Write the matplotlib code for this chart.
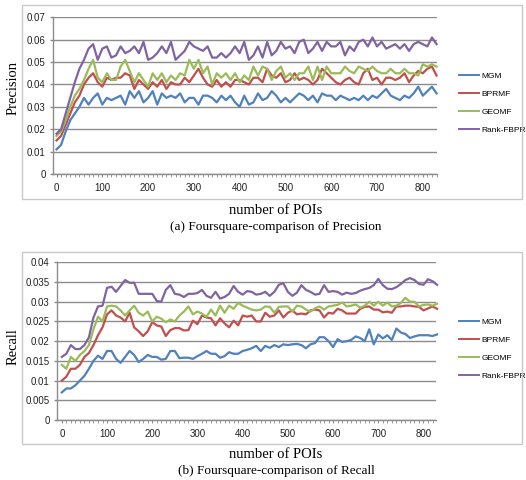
import numpy as np
import matplotlib
matplotlib.use("Agg")
import matplotlib.pyplot as plt
from matplotlib.ticker import MultipleLocator, FixedLocator
from matplotlib.patches import Rectangle

pois = list(range(0, 840, 10))
series_names = ["MGM", "BPRMF", "GEOMF", "Rank-FBPR"]

prec_mgm = [0.011,0.013,0.019,0.024,0.027,0.030,0.034,0.031,0.034,0.036,
            0.031,0.034,0.033,0.034,0.035,0.031,0.037,0.034,0.037,0.032,
            0.034,0.037,0.031,0.036,0.034,0.035,0.034,0.036,0.032,0.034,
            0.034,0.031,0.035,0.035,0.034,0.032,0.035,0.033,0.035,0.032,
            0.030,0.035,0.031,0.032,0.036,0.033,0.034,0.037,0.035,0.032,
            0.034,0.032,0.034,0.036,0.035,0.033,0.035,0.032,0.036,0.035,
            0.035,0.033,0.035,0.034,0.033,0.034,0.033,0.035,0.033,0.035,
            0.034,0.036,0.038,0.035,0.034,0.033,0.035,0.034,0.036,0.039,
            0.035,0.037,0.039,0.036]
prec_bprmf = [0.015,0.017,0.022,0.027,0.032,0.035,0.040,0.043,0.045,0.041,
              0.039,0.043,0.042,0.043,0.043,0.045,0.044,0.038,0.042,0.040,
              0.038,0.041,0.039,0.042,0.038,0.041,0.040,0.040,0.043,0.041,
              0.044,0.047,0.043,0.040,0.039,0.042,0.039,0.041,0.039,0.042,
              0.042,0.041,0.040,0.043,0.043,0.041,0.047,0.044,0.043,0.045,
              0.041,0.042,0.045,0.042,0.043,0.042,0.040,0.042,0.047,0.045,
              0.043,0.041,0.040,0.042,0.043,0.041,0.040,0.045,0.047,0.042,
              0.043,0.040,0.043,0.043,0.042,0.043,0.045,0.041,0.044,0.046,
              0.045,0.047,0.048,0.044]
prec_geomf = [0.017,0.019,0.024,0.030,0.035,0.038,0.042,0.047,0.051,0.043,
              0.041,0.045,0.042,0.042,0.048,0.051,0.046,0.041,0.045,0.042,
              0.039,0.045,0.042,0.045,0.041,0.044,0.042,0.045,0.044,0.051,
              0.047,0.051,0.045,0.048,0.040,0.045,0.043,0.045,0.042,0.045,
              0.041,0.044,0.042,0.048,0.044,0.048,0.047,0.042,0.046,0.048,
              0.043,0.045,0.042,0.045,0.045,0.048,0.042,0.048,0.042,0.048,
              0.045,0.045,0.045,0.048,0.046,0.045,0.048,0.047,0.046,0.048,
              0.046,0.045,0.045,0.047,0.045,0.045,0.047,0.045,0.045,0.044,
              0.049,0.048,0.049,0.048]
prec_rank = [0.018,0.020,0.027,0.034,0.041,0.047,0.051,0.056,0.058,0.051,
             0.056,0.057,0.052,0.053,0.057,0.054,0.055,0.057,0.054,0.059,
             0.051,0.052,0.054,0.057,0.054,0.059,0.051,0.053,0.055,0.059,
             0.057,0.056,0.055,0.057,0.052,0.052,0.054,0.052,0.054,0.057,
             0.054,0.059,0.051,0.053,0.057,0.052,0.059,0.053,0.055,0.059,
             0.056,0.057,0.054,0.059,0.060,0.054,0.056,0.059,0.055,0.059,
             0.057,0.057,0.059,0.053,0.057,0.055,0.059,0.060,0.057,0.061,
             0.057,0.059,0.056,0.057,0.058,0.056,0.058,0.055,0.058,0.059,
             0.058,0.057,0.061,0.058]

rec_mgm = [0.0070,0.0080,0.0080,0.0088,0.0100,0.0112,0.0130,0.0150,0.0163,0.0155,
           0.0175,0.0175,0.0155,0.0145,0.0160,0.0175,0.0165,0.0147,0.0155,0.0165,
           0.0160,0.0160,0.0153,0.0155,0.0175,0.0175,0.0157,0.0158,0.0158,0.0155,
           0.0162,0.0168,0.0175,0.0168,0.0168,0.0158,0.0162,0.0172,0.0168,0.0168,
           0.0175,0.0178,0.0182,0.0188,0.0175,0.0188,0.0183,0.0190,0.0185,0.0192,
           0.0190,0.0192,0.0193,0.0190,0.0182,0.0192,0.0195,0.0210,0.0210,0.0200,
           0.0185,0.0205,0.0198,0.0200,0.0203,0.0212,0.0208,0.0200,0.0230,0.0192,
           0.0217,0.0207,0.0215,0.0203,0.0232,0.0222,0.0218,0.0208,0.0212,0.0215,
           0.0215,0.0215,0.0213,0.0217]
rec_bprmf = [0.0100,0.0110,0.0130,0.0130,0.0140,0.0160,0.0170,0.0190,0.0215,0.0235,
             0.0268,0.0278,0.0265,0.0260,0.0250,0.0272,0.0235,0.0225,0.0213,0.0225,
             0.0248,0.0240,0.0237,0.0213,0.0228,0.0233,0.0233,0.0227,0.0228,0.0252,
             0.0243,0.0265,0.0260,0.0258,0.0240,0.0258,0.0245,0.0235,0.0252,0.0240,
             0.0265,0.0262,0.0265,0.0250,0.0250,0.0272,0.0262,0.0265,0.0278,0.0260,
             0.0272,0.0278,0.0268,0.0270,0.0268,0.0278,0.0280,0.0278,0.0260,0.0272,
             0.0270,0.0282,0.0278,0.0270,0.0270,0.0270,0.0282,0.0287,0.0288,0.0280,
             0.0280,0.0273,0.0275,0.0272,0.0288,0.0288,0.0290,0.0290,0.0288,0.0287,
             0.0278,0.0283,0.0288,0.0282]
rec_geomf = [0.0140,0.0130,0.0160,0.0150,0.0165,0.0175,0.0190,0.0230,0.0262,0.0250,
             0.0288,0.0290,0.0288,0.0278,0.0265,0.0278,0.0290,0.0272,0.0265,0.0275,
             0.0250,0.0262,0.0257,0.0248,0.0255,0.0250,0.0265,0.0275,0.0288,0.0268,
             0.0275,0.0270,0.0262,0.0280,0.0265,0.0290,0.0272,0.0290,0.0282,0.0297,
             0.0290,0.0285,0.0280,0.0278,0.0280,0.0288,0.0287,0.0272,0.0287,0.0288,
             0.0288,0.0275,0.0290,0.0288,0.0280,0.0275,0.0283,0.0288,0.0280,0.0288,
             0.0290,0.0292,0.0298,0.0288,0.0290,0.0293,0.0285,0.0290,0.0300,0.0290,
             0.0300,0.0290,0.0298,0.0288,0.0290,0.0297,0.0310,0.0300,0.0300,0.0288,
             0.0292,0.0293,0.0290,0.0295]
rec_rank = [0.0160,0.0168,0.0190,0.0180,0.0180,0.0190,0.0210,0.0260,0.0288,0.0290,
            0.0335,0.0338,0.0325,0.0340,0.0355,0.0348,0.0348,0.0320,0.0320,0.0320,
            0.0320,0.0302,0.0300,0.0330,0.0342,0.0320,0.0318,0.0312,0.0320,0.0320,
            0.0322,0.0330,0.0315,0.0310,0.0325,0.0308,0.0312,0.0320,0.0340,0.0325,
            0.0318,0.0327,0.0325,0.0318,0.0320,0.0325,0.0315,0.0325,0.0343,0.0347,
            0.0325,0.0315,0.0323,0.0342,0.0330,0.0325,0.0318,0.0320,0.0342,0.0325,
            0.0327,0.0325,0.0318,0.0323,0.0320,0.0322,0.0328,0.0332,0.0335,0.0342,
            0.0358,0.0342,0.0333,0.0332,0.0337,0.0345,0.0355,0.0360,0.0355,0.0345,
            0.0343,0.0357,0.0352,0.0343]

precision = [prec_mgm, prec_bprmf, prec_geomf, prec_rank]
recall = [rec_mgm, rec_bprmf, rec_geomf, rec_rank]
for s in precision + recall:
    assert len(s) == len(pois)

colors = ["#4F81BD", "#C0504D", "#9BBB59", "#8064A2"]

W, H = 526, 480
fig = plt.figure(figsize=(W / 100, H / 100), dpi=100)
fig.patch.set_facecolor("white")

def px(x0, y0, x1, y1):
    return [x0 / W, 1 - y1 / H, (x1 - x0) / W, (y1 - y0) / H]

def style_axes(ax, ymax, ystep, xlim, fmt):
    ax.set_xlim(*xlim)
    ax.set_ylim(0, ymax)
    ax.yaxis.set_major_locator(MultipleLocator(ystep))
    ax.yaxis.set_major_formatter(matplotlib.ticker.FuncFormatter(fmt))
    ax.xaxis.set_major_locator(FixedLocator(list(range(0, 900, 100))))
    ax.xaxis.set_minor_locator(FixedLocator(pois))
    ax.grid(axis="y", color="#8c8c8c", linewidth=1.0)
    ax.set_axisbelow(True)
    for sp in ["top", "right"]:
        ax.spines[sp].set_visible(False)
    for sp in ["left", "bottom"]:
        ax.spines[sp].set_color("#8c8c8c")
        ax.spines[sp].set_linewidth(1.0)
    ax.tick_params(axis="y", length=2.5, width=1.0, color="#8c8c8c", pad=3,
                   labelsize=7, labelcolor="#222222")
    ax.tick_params(axis="x", which="both", length=2.5, color="#8c8c8c",
                   direction="out", pad=4, labelsize=7, labelcolor="#222222")
    for lab in ax.get_xticklabels() + ax.get_yticklabels():
        lab.set_fontfamily(["Liberation Sans", "DejaVu Sans"])

def fmt_prec(v, pos):
    if abs(v) < 1e-12:
        return "0"
    return f"{v:.2f}"

def fmt_rec(v, pos):
    if abs(v) < 1e-12:
        return "0"
    s = f"{v:.3f}".rstrip("0")
    if len(s.split(".")[1]) < 2:
        s = f"{v:.2f}"
    return s

serif = ["Liberation Serif", "DejaVu Serif"]
leg_prop = {"family": ["Liberation Sans"], "size": 6.0}

# frames (chart area borders)
for (x0, y0, x1, y1) in [(22, 5, 522, 199), (22, 252, 522, 444)]:
    fig.patches.append(Rectangle((x0 / W, 1 - y1 / H), (x1 - x0) / W, (y1 - y0) / H,
                                 transform=fig.transFigure, fill=False,
                                 edgecolor="#c8c8c8", linewidth=1.0))

# Top: precision
ax1 = fig.add_axes(px(53.3, 17.3, 437, 174))
for name, vals, c in zip(series_names, precision, colors):
    ax1.plot(pois, vals, color=c, linewidth=1.6, label=name, clip_on=False)
style_axes(ax1, 0.07, 0.01, (-7, 831), fmt_prec)
fig.text(13 / W, 1 - 88 / H, "Precision", rotation=90, ha="center", va="center",
         fontsize=10.5, family=serif)
fig.text(276 / W, 1 - 210 / H, "number of POIs", ha="center", va="center",
         fontsize=10.5, family=serif)
fig.text(276 / W, 1 - 227 / H, "(a) Foursquare-comparison of Precision", ha="center",
         va="center", fontsize=9.5, family=serif)
leg1 = ax1.legend(loc="center left", bbox_to_anchor=(459 / W, 1 - 103 / H),
                  bbox_transform=fig.transFigure, frameon=False,
                  handlelength=2.4, handletextpad=0.3, labelspacing=1.2,
                  borderpad=0, borderaxespad=0, prop=leg_prop)
for line in leg1.get_lines():
    line.set_linewidth(1.4)

# Bottom: recall
ax2 = fig.add_axes(px(57.3, 262.3, 435.7, 420))
for name, vals, c in zip(series_names, recall, colors):
    ax2.plot(pois, vals, color=c, linewidth=1.6, label=name, clip_on=False)
style_axes(ax2, 0.04, 0.005, (-10, 827), fmt_rec)
fig.text(13 / W, 1 - 347 / H, "Recall", rotation=90, ha="center", va="center",
         fontsize=10.5, family=serif)
fig.text(276 / W, 1 - 455 / H, "number of POIs", ha="center", va="center",
         fontsize=10.5, family=serif)
fig.text(276 / W, 1 - 471 / H, "(b) Foursquare-comparison of Recall", ha="center",
         va="center", fontsize=9.5, family=serif)
leg2 = ax2.legend(loc="center left", bbox_to_anchor=(459 / W, 1 - 349 / H),
                  bbox_transform=fig.transFigure, frameon=False,
                  handlelength=2.4, handletextpad=0.3, labelspacing=1.2,
                  borderpad=0, borderaxespad=0, prop=leg_prop)
for line in leg2.get_lines():
    line.set_linewidth(1.4)

fig.savefig("out.png", dpi=100, facecolor="white")
